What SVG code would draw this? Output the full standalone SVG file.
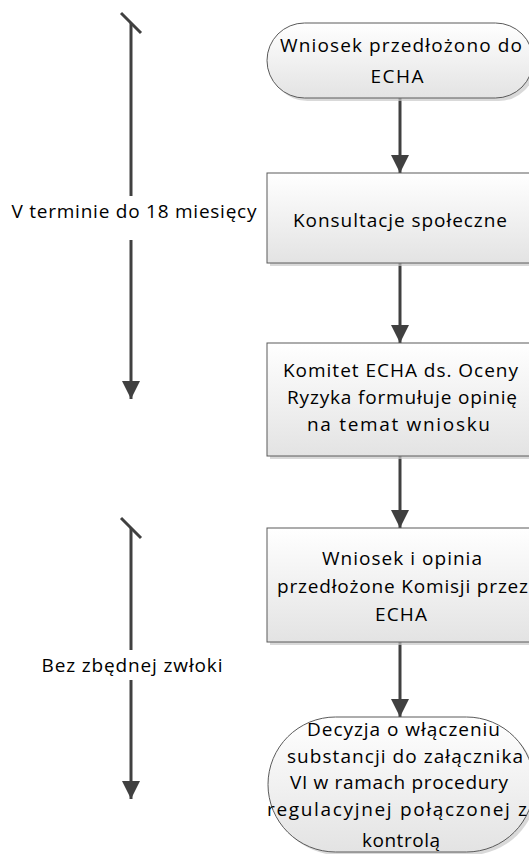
<svg xmlns="http://www.w3.org/2000/svg" width="529" height="854" viewBox="0 0 529 854">
<defs>
<linearGradient id="g" x1="0" y1="0" x2="0" y2="1">
<stop offset="0" stop-color="#ffffff"/>
<stop offset="1" stop-color="#e3e3e3"/>
</linearGradient>
<marker id="ah" viewBox="0 0 18 18" refX="18" refY="9" markerWidth="18" markerHeight="18" markerUnits="userSpaceOnUse" orient="auto">
<path d="M0,0 L18,9 L0,18 Z" fill="#404040"/>
</marker>
</defs>
<style>
.node{fill:url(#g);stroke:#5a5a5a;stroke-width:1}
.sh{fill:#c9c9c9;opacity:0.7}
.t{font-family:"Open Sans","Liberation Sans",Arial,sans-serif;font-size:19px;fill:#000;text-anchor:middle}
.lb{font-family:"Open Sans","Liberation Sans",Arial,sans-serif;font-size:19px;fill:#000;text-anchor:middle}
.c{stroke:#404040;stroke-width:3;fill:none}
</style>
<rect width="529" height="854" fill="#fff"/>

<g id="connectors">
<line class="c" x1="400" y1="98" x2="400" y2="173" marker-end="url(#ah)"/>
<line class="c" x1="400" y1="263" x2="400" y2="343" marker-end="url(#ah)"/>
<line class="c" x1="400" y1="456" x2="400" y2="528" marker-end="url(#ah)"/>
<line class="c" x1="400" y1="642" x2="400" y2="717" marker-end="url(#ah)"/>
<line class="c" x1="121" y1="13" x2="141" y2="33"/>
<line class="c" x1="131" y1="23" x2="131" y2="196"/>
<line class="c" x1="131" y1="240" x2="131" y2="399" marker-end="url(#ah)"/>
<line class="c" x1="121" y1="518" x2="141" y2="538"/>
<line class="c" x1="131" y1="528" x2="131" y2="650"/>
<line class="c" x1="131" y1="680" x2="131" y2="799" marker-end="url(#ah)"/>
</g>

<g id="label1">
<text class="lb" x="134" y="218" textLength="245" lengthAdjust="spacing">V terminie do 18 miesięcy</text>
</g>
<g id="label2">
<text class="lb" x="132" y="672" textLength="181" lengthAdjust="spacing">Bez zbędnej zwłoki</text>
</g>

<g id="n1">
<rect class="sh" x="270" y="26" width="266" height="75" rx="37.5"/>
<rect class="node" x="267" y="23" width="266" height="75" rx="37.5"/>
<text class="t" x="401" y="52" textLength="242" lengthAdjust="spacing">Wniosek przedłożono do</text>
<text class="t" x="397" y="83" textLength="53" lengthAdjust="spacing">ECHA</text>
</g>

<g id="n2">
<rect class="sh" x="270" y="176" width="266" height="90"/>
<rect class="node" x="267" y="173" width="266" height="90"/>
<text class="t" x="400" y="227" textLength="214" lengthAdjust="spacing">Konsultacje społeczne</text>
</g>

<g id="n3">
<rect class="sh" x="270" y="346" width="266" height="113"/>
<rect class="node" x="267" y="343" width="266" height="113"/>
<text class="t" x="400.5" y="377" textLength="235" lengthAdjust="spacing">Komitet ECHA ds. Oceny</text>
<text class="t" x="402" y="404" textLength="230" lengthAdjust="spacing">Ryzyka formułuje opinię</text>
<text class="t" x="398.5" y="431" textLength="183" lengthAdjust="spacing">na temat wniosku</text>
</g>

<g id="n4">
<rect class="sh" x="270" y="531" width="266" height="114"/>
<rect class="node" x="267" y="528" width="266" height="114"/>
<text class="t" x="402" y="565" textLength="160" lengthAdjust="spacing">Wniosek i opinia</text>
<text class="t" x="402.5" y="593" textLength="251" lengthAdjust="spacing">przedłożone Komisji przez</text>
<text class="t" x="401" y="621" textLength="52" lengthAdjust="spacing">ECHA</text>
</g>

<g id="n5">
<rect class="sh" x="271" y="720" width="266" height="135" rx="67.5"/>
<rect class="node" x="268" y="717" width="266" height="135" rx="67.5"/>
<text class="t" x="403.5" y="736" textLength="193" lengthAdjust="spacing">Decyzja o włączeniu</text>
<text class="t" x="405" y="763" textLength="236" lengthAdjust="spacing">substancji do załącznika</text>
<text class="t" x="399" y="789" textLength="218" lengthAdjust="spacing">VI w ramach procedury</text>
<text class="t" x="397" y="816" textLength="260" lengthAdjust="spacing">regulacyjnej połączonej z</text>
<text class="t" x="401" y="847" textLength="78" lengthAdjust="spacing">kontrolą</text>
</g>
</svg>
